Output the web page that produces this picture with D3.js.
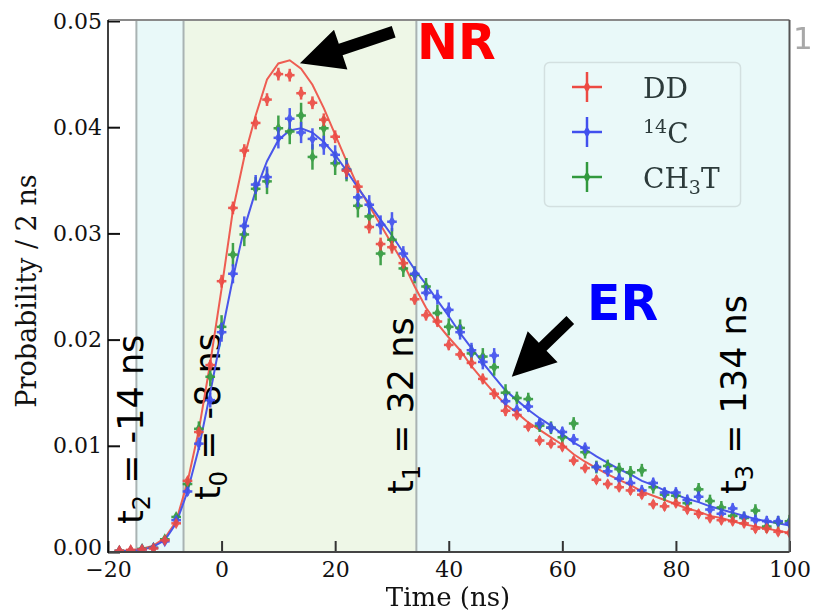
<!DOCTYPE html>
<html><head><meta charset="utf-8">
<script src="https://cdn.jsdelivr.net/npm/d3@7"></script>
<style>body{margin:0;background:#fff}svg{display:block}</style>
</head><body><svg id="c" width="813" height="612"></svg>
<script>
// ---------- data ----------
const bins = [-18,-16,-14,-12,-10,-8,-6,-4,-2,0,2,4,6,8,10,12,14,16,18,20,22,24,26,28,30,32,34,36,38,40,42,44,46,48,50,52,54,56,58,60,62,64,66,68,70,72,74,76,78,80,82,84,86,88,90,92,94,96,98,100];

const ddVals = [0.00012,0.0002,0.00024,0.00033,0.0011,0.0027,0.0067,0.0113,0.0176,0.0255,0.0324,0.0378,0.0404,0.0426,0.0450,0.0449,0.0432,0.0423,0.0407,0.0391,0.0359,0.0344,0.0306,0.0290,0.0287,0.0272,0.0238,0.0223,0.0217,0.0195,0.0186,0.0178,0.0163,0.0149,0.0133,0.0129,0.0118,0.0105,0.0102,0.0099,0.0086,0.0079,0.0068,0.0064,0.0061,0.0058,0.0054,0.0045,0.0043,0.0046,0.0040,0.0036,0.0032,0.0030,0.0029,0.0027,0.0022,0.0022,0.0019,0.0018];
const c14Vals = [0.0001,0.00014,0.00024,0.00038,0.0010,0.0030,0.0057,0.0102,0.0143,0.0207,0.0262,0.0307,0.0346,0.0353,0.0390,0.0408,0.0395,0.0389,0.0383,0.0374,0.0360,0.0334,0.0327,0.0308,0.0311,0.0281,0.0262,0.0244,0.0240,0.0228,0.0207,0.0190,0.0179,0.0185,0.0142,0.0134,0.0137,0.0121,0.0117,0.0113,0.0106,0.0098,0.0080,0.0076,0.0069,0.0065,0.0058,0.0065,0.0056,0.0056,0.0049,0.0052,0.0040,0.0036,0.0041,0.0033,0.0030,0.0029,0.0029,0.0027];
const ch3tVals = [0.00012,0.00014,0.0003,0.0004,0.0012,0.0033,0.0064,0.0116,0.0165,0.0212,0.0280,0.0299,0.0342,0.0349,0.0399,0.0396,0.0411,0.0372,0.0399,0.0366,0.0360,0.0326,0.0316,0.0281,0.0294,0.0267,0.0261,0.0250,0.0225,0.0212,0.0211,0.0187,0.0184,0.0174,0.0150,0.0145,0.0144,0.0119,0.0117,0.0108,0.0121,0.0094,0.0080,0.0081,0.0078,0.0075,0.0077,0.0061,0.0054,0.0053,0.0046,0.0059,0.0048,0.0042,0.0034,0.0032,0.0039,0.0024,0.0028,0.0029];

const ddErr = [0.0001,0.0001,0.0001,0.0001,0.0001,0.0002,0.0003,0.0004,0.0005,0.0006,0.0006,0.0006,0.0006,0.0006,0.0006,0.0006,0.0006,0.0006,0.0006,0.0006,0.0006,0.0006,0.0006,0.0006,0.0006,0.0005,0.0005,0.0005,0.0005,0.0005,0.0005,0.0005,0.0005,0.0005,0.0005,0.0004,0.0004,0.0004,0.0004,0.0004,0.0004,0.0004,0.0004,0.0004,0.0004,0.0004,0.0004,0.0004,0.0004,0.0004,0.0004,0.0004,0.0004,0.0004,0.0004,0.0004,0.0004,0.0004,0.0004,0.0004];
const c14Err = [0.0001,0.0001,0.0001,0.0001,0.0001,0.0003,0.0004,0.0006,0.0007,0.0009,0.0009,0.0009,0.0009,0.0010,0.0010,0.0010,0.0010,0.0010,0.0009,0.0009,0.0009,0.0009,0.0009,0.0009,0.0009,0.0007,0.0007,0.0007,0.0007,0.0007,0.0007,0.0007,0.0007,0.0007,0.0007,0.0005,0.0005,0.0005,0.0005,0.0005,0.0005,0.0005,0.0005,0.0005,0.0005,0.0005,0.0005,0.0005,0.0005,0.0005,0.0005,0.0005,0.0005,0.0005,0.0005,0.0005,0.0005,0.0005,0.0005,0.0005];
const ch3tErr = [0.0001,0.0001,0.0001,0.0001,0.0001,0.0003,0.0005,0.0007,0.0009,0.0011,0.0011,0.0011,0.0011,0.0012,0.0012,0.0012,0.0012,0.0012,0.0011,0.0011,0.0011,0.0011,0.0011,0.0011,0.0011,0.0008,0.0008,0.0008,0.0008,0.0008,0.0008,0.0008,0.0008,0.0008,0.0008,0.0006,0.0006,0.0006,0.0006,0.0006,0.0006,0.0006,0.0006,0.0006,0.0006,0.0006,0.0006,0.0006,0.0006,0.0006,0.0006,0.0006,0.0006,0.0006,0.0006,0.0006,0.0006,0.0006,0.0006,0.0006];

const ddFit = [0.0001,0.00015,0.0003,0.0006,0.0013,0.0029,0.0066,0.0115,0.0178,0.0248,0.0322,0.0372,0.0411,0.0445,0.0460,0.0463,0.0455,0.0440,0.0418,0.0393,0.0368,0.0344,0.0326,0.0308,0.0290,0.0272,0.0250,0.0230,0.0215,0.0202,0.0190,0.0175,0.0162,0.0150,0.0139,0.0131,0.0122,0.0115,0.0108,0.0101,0.0092,0.0085,0.0079,0.0073,0.0068,0.0063,0.0057,0.0053,0.0049,0.0045,0.0041,0.0038,0.0034,0.0032,0.0029,0.0026,0.0024,0.0022,0.0020,0.0018];
const c14Fit = [0.0001,0.0001,0.0002,0.0005,0.0011,0.0027,0.0057,0.0098,0.0150,0.0205,0.0258,0.0305,0.0340,0.0368,0.0388,0.0397,0.0399,0.0395,0.0386,0.0374,0.0359,0.0343,0.0328,0.0313,0.0298,0.0282,0.0266,0.0252,0.0237,0.0222,0.0206,0.0192,0.0178,0.0165,0.0152,0.0143,0.0134,0.0126,0.0119,0.0111,0.0103,0.0097,0.0090,0.0084,0.0078,0.0073,0.0067,0.0063,0.0058,0.0054,0.0050,0.0047,0.0043,0.0040,0.0037,0.0034,0.0031,0.0029,0.0027,0.0025];

const xTicks = [-20,0,20,40,60,80,100];
const yTicks = [0,0.01,0.02,0.03,0.04,0.05];
const regionEdges = [-15,-6.7,34.3];
const seriesNames = ["DD","14C","CH3T"];

// ---------- setup ----------
const svg = d3.select("#c");
const L=108,R=789.5,T=21,B=552;
const x = d3.scaleLinear().domain([-20,100]).range([L,R]);
const y = d3.scaleLinear().domain([0,0.05]).range([B,T]);
const serif = "DejaVu Serif, serif";
const sans = "DejaVu Sans, sans-serif";

svg.append("defs").append("clipPath").attr("id","pc")
  .append("rect").attr("x",L).attr("y",20).attr("width",R-L).attr("height",B-20);

// background regions
const cyan="#e9f9f9", green="#eef7e7";
const edgesPx=[L, ...regionEdges.map(x), R];
const fills=["#ffffff",cyan,green,cyan];
fills.forEach((f,i)=>{
  svg.append("rect").attr("x",edgesPx[i]).attr("y",20).attr("width",edgesPx[i+1]-edgesPx[i]).attr("height",B-20).attr("fill",f);
});
regionEdges.forEach(e=>{
  svg.append("line").attr("x1",x(e)).attr("x2",x(e)).attr("y1",20).attr("y2",B)
    .attr("stroke","#a9b3b3").attr("stroke-width",2);
});

// rotated interval labels (behind data)
const tLabels = [
  {sub:"2", rest:" = -14 ns", bx:143, by:524},
  {sub:"0", rest:" = -8 ns", bx:220, by:500},
  {sub:"1", rest:" = 32 ns", bx:413, by:494},
  {sub:"3", rest:" = 134 ns", bx:746, by:494}
];
tLabels.forEach(l=>{
  const t = svg.append("text").attr("transform",`translate(${l.bx},${l.by}) rotate(-90)`)
    .attr("font-family",sans).attr("font-size",35).attr("fill","#000");
  t.append("tspan").text("t");
  t.append("tspan").attr("font-size",24).attr("dy",7).text(l.sub);
  t.append("tspan").attr("font-size",35).attr("dy",-7).text(l.rest);
});

// axes
const gx = svg.append("g").attr("transform",`translate(0,${B})`)
  .call(d3.axisBottom(x).tickValues(xTicks).tickSizeInner(-11).tickSizeOuter(0).tickPadding(9).tickFormat(d3.format("d")));
gx.select(".domain").remove();
gx.selectAll(".tick line").attr("stroke","#333").attr("stroke-width",2);
gx.selectAll("text").attr("font-family",serif).attr("font-size",22).attr("fill","#111");

const gy = svg.append("g").attr("transform",`translate(${L},0)`)
  .call(d3.axisLeft(y).tickValues(yTicks).tickSizeInner(-12).tickSizeOuter(0).tickPadding(6).tickFormat(d3.format(".2f")));
gy.select(".domain").remove();
gy.selectAll(".tick line").attr("stroke","#111").attr("stroke-width",2);
gy.selectAll("text").attr("font-family",serif).attr("font-size",22).attr("fill","#111");
gy.selectAll(".tick").filter(d=>d===0).select("text").attr("dy","0.1em");

// series
const series = [
  {vals:ddVals, err:ddErr, fit:ddFit, col:"#ec4a43", line:"#ee5d52"},
  {vals:c14Vals, err:c14Err, fit:c14Fit, col:"#4150ee", line:"#4a56ea"},
  {vals:ch3tVals, err:ch3tErr, fit:null, col:"#31993d", line:null}
];
const plot = svg.append("g").attr("clip-path","url(#pc)");
const lineGen = d3.line().x((d,i)=>x(bins[i])).y(d=>y(d));
series.forEach(s=>{
  if(s.fit) plot.append("path").datum(s.fit).attr("d",lineGen)
    .attr("fill","none").attr("stroke",s.line).attr("stroke-width",2);
});
const diamond = d3.symbol().type(d3.symbolDiamond).size(40);
series.slice().reverse().forEach(s=>{
  const g = plot.append("g").attr("opacity",0.92);
  s.vals.forEach((v,i)=>{
    const cx=x(bins[i]), cy=y(v);
    g.append("line").attr("x1",cx).attr("x2",cx).attr("y1",y(v+s.err[i])).attr("y2",y(v-s.err[i]))
      .attr("stroke",s.col).attr("stroke-width",2.5);
    g.append("line").attr("x1",x(bins[i]-0.85)).attr("x2",x(bins[i]+0.85)).attr("y1",cy).attr("y2",cy)
      .attr("stroke",s.col).attr("stroke-width",2.5);
    g.append("path").attr("d",diamond).attr("transform",`translate(${cx},${cy})`).attr("fill",s.col);
  });
});

// spines
svg.append("line").attr("x1",L).attr("x2",R).attr("y1",20).attr("y2",20).attr("stroke","#8a8a8a").attr("stroke-width",2);
svg.append("line").attr("x1",R).attr("x2",R).attr("y1",20).attr("y2",B).attr("stroke","#555").attr("stroke-width",2);
svg.append("line").attr("x1",L).attr("x2",R).attr("y1",B).attr("y2",B).attr("stroke","#444").attr("stroke-width",2.2);
svg.append("line").attr("x1",L).attr("x2",L).attr("y1",20).attr("y2",B+1).attr("stroke","#000").attr("stroke-width",1.5);

// axis labels
svg.append("text").attr("x",448).attr("y",606).attr("text-anchor","middle")
  .attr("font-family",serif).attr("font-size",26).attr("fill","#111").text("Time (ns)");
svg.append("text").attr("transform","translate(36,291) rotate(-90)").attr("text-anchor","middle")
  .attr("font-family",serif).attr("font-size",27).attr("fill","#111").text("Probability / 2 ns");

// arrows
function arrow(tail, tip, sw, hw, hl){
  const T=[x(tail[0]),y(tail[1])], P=[x(tip[0]),y(tip[1])];
  const dx=P[0]-T[0], dy=P[1]-T[1], len=Math.hypot(dx,dy);
  const u=[dx/len,dy/len], n=[-u[1],u[0]];
  const Bp=[P[0]-u[0]*hl, P[1]-u[1]*hl];
  const pts=[
    [T[0]+n[0]*sw/2,T[1]+n[1]*sw/2],[Bp[0]+n[0]*sw/2,Bp[1]+n[1]*sw/2],[Bp[0]+n[0]*hw/2,Bp[1]+n[1]*hw/2],
    P,[Bp[0]-n[0]*hw/2,Bp[1]-n[1]*hw/2],[Bp[0]-n[0]*sw/2,Bp[1]-n[1]*sw/2],[T[0]-n[0]*sw/2,T[1]-n[1]*sw/2]];
  svg.append("polygon").attr("points",pts.map(p=>p.join(",")).join(" ")).attr("fill","#000");
}
arrow([30.3,0.04899],[13.8,0.04602],12,42,43);
arrow([61.4,0.02185],[51.1,0.01651],11,43,43);

svg.append("text").attr("x",417).attr("y",59).attr("font-family",sans).attr("font-weight","bold")
  .attr("font-size",49).attr("fill","#ff0000").text("NR");
svg.append("text").attr("x",587).attr("y",320).attr("font-family",sans).attr("font-weight","bold")
  .attr("font-size",49).attr("fill","#0000ff").text("ER");

// stray glyph at top right
svg.append("text").attr("x",793).attr("y",49).attr("font-family",sans).attr("font-size",31).attr("fill","#a8a8a8").text("1");

// legend
const lg = svg.append("g");
lg.append("rect").attr("x",544.5).attr("y",62.5).attr("width",196).attr("height",144).attr("rx",5)
  .attr("fill","#eaf9f9").attr("fill-opacity",0.85).attr("stroke","#d3e0e0").attr("stroke-width",1.5);
const rowsY=[87,132,177];
series.forEach((s,i)=>{
  const cy=rowsY[i];
  lg.append("line").attr("x1",572).attr("x2",602).attr("y1",cy).attr("y2",cy).attr("stroke",s.col).attr("stroke-width",2.5);
  lg.append("line").attr("x1",587).attr("x2",587).attr("y1",cy-15).attr("y2",cy+15).attr("stroke",s.col).attr("stroke-width",2.5);
  lg.append("path").attr("d",diamond).attr("transform",`translate(587,${cy})`).attr("fill",s.col);
  const t = lg.append("text").attr("x",643).attr("y",cy+11).attr("font-family",serif).attr("font-size",28).attr("fill","#2c3a3a");
  if(seriesNames[i]==="14C"){
    t.append("tspan").attr("font-size",19).attr("dy",-10).text("14");
    t.append("tspan").attr("font-size",28).attr("dy",10).text("C");
  } else if(seriesNames[i]==="CH3T"){
    t.append("tspan").text("CH");
    t.append("tspan").attr("font-size",19).attr("dy",6).text("3");
    t.append("tspan").attr("font-size",28).attr("dy",-6).text("T");
  } else t.text(seriesNames[i]);
});
</script></body></html>
